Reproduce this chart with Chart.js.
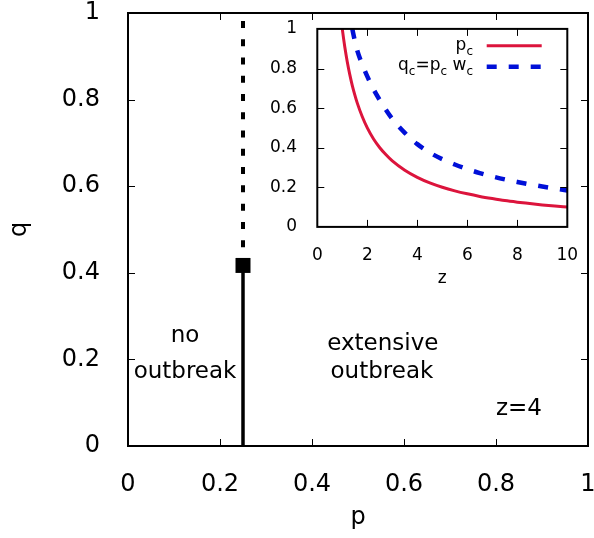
<!DOCTYPE html>
<html><head><meta charset="utf-8">
<script src="https://cdn.jsdelivr.net/npm/chart.js@4.4.1/dist/chart.umd.min.js"></script>
<style>
html,body{margin:0;padding:0;background:#fff;}
#wrap{position:relative;width:594px;height:538px;overflow:hidden;}
#main{position:absolute;left:0;top:0;}
#inset{position:absolute;left:250px;top:0;}
</style></head><body>
<div id="wrap"><canvas id="main" width="594" height="538"></canvas><canvas id="inset" width="344" height="300"></canvas></div>
<script>
const FONT = "'DejaVu Sans', sans-serif";

// ---- main panel data ----
const mainTickValues = [0, 0.2, 0.4, 0.6, 0.8, 1];
const mainTickLabels = ['0', '0.2', '0.4', '0.6', '0.8', '1'];
const mainXTitle = 'p';
const mainYTitle = 'q';
const boundaryP = 0.25;
const solidQ = [0, 0.417];
const dashedQ = [0.417, 1];
const criticalQ = 0.417;
const regionTexts = ['no', 'outbreak', 'extensive', 'outbreak', 'z=4'];
const regionP = [0.124, 0.124, 0.554, 0.552, 0.85];
const regionQ = [0.240, 0.157, 0.222, 0.157, 0.0716];

// ---- inset data ----
const insetXTickValues = [0, 2, 4, 6, 8, 10];
const insetXTickLabels = ['0', '2', '4', '6', '8', '10'];
const insetYTickValues = [0, 0.2, 0.4, 0.6, 0.8, 1];
const insetYTickLabels = ['0', '0.2', '0.4', '0.6', '0.8', '1'];
const insetXTitle = 'z';
const zPc = [1, 1.05, 1.1, 1.2, 1.3, 1.4, 1.5, 1.6, 1.8, 2, 2.25, 2.5, 2.75, 3, 3.5, 4, 4.5, 5, 5.5, 6, 6.5, 7, 7.5, 8, 8.5, 9, 9.5, 10];
const pcValues = [1, 0.952, 0.909, 0.833, 0.769, 0.714, 0.667, 0.625, 0.556, 0.5, 0.444, 0.4, 0.364, 0.333, 0.286, 0.25, 0.222, 0.2, 0.182, 0.167, 0.154, 0.143, 0.133, 0.125, 0.118, 0.111, 0.105, 0.1];
const zQc = [1.4, 1.5, 1.6, 1.8, 2, 2.25, 2.5, 2.75, 3, 3.5, 4, 4.5, 5, 5.5, 6, 6.5, 7, 7.5, 8, 8.5, 9, 9.5, 10];
const qcValues = [1.0, 0.94, 0.89, 0.82, 0.76, 0.695, 0.64, 0.59, 0.545, 0.475, 0.418, 0.375, 0.342, 0.315, 0.292, 0.272, 0.255, 0.24, 0.227, 0.215, 0.204, 0.194, 0.184];

const RED = '#dc143c';
const BLUE = '#0010d8';

function fixedTicks(values) {
  return function (scale) { scale.ticks = values.map(v => ({ value: v })); };
}

function framePlugin(id, len, tickW, frameW) {
  return {
    id: id,
    afterDraw(chart) {
      const { ctx, chartArea: a, scales } = chart;
      const x = scales.x, y = scales.y;
      ctx.save();
      ctx.strokeStyle = '#000';
      ctx.lineWidth = tickW;
      ctx.beginPath();
      x.ticks.forEach(t => {
        if (t.value <= x.min || t.value >= x.max) return;
        const px = Math.round(x.getPixelForValue(t.value)) + 0.5;
        ctx.moveTo(px, a.bottom); ctx.lineTo(px, a.bottom - len);
        ctx.moveTo(px, a.top); ctx.lineTo(px, a.top + len);
      });
      y.ticks.forEach(t => {
        if (t.value <= y.min || t.value >= y.max) return;
        const py = Math.round(y.getPixelForValue(t.value)) + 0.5;
        ctx.moveTo(a.left, py); ctx.lineTo(a.left + len, py);
        ctx.moveTo(a.right, py); ctx.lineTo(a.right - len, py);
      });
      ctx.stroke();
      ctx.lineWidth = frameW;
      ctx.strokeRect(a.left, a.top, a.right - a.left, a.bottom - a.top);
      ctx.restore();
    }
  };
}

function titlesPlugin(id, size, xTitle, xBaseline, yTitle, yBaselineX) {
  return {
    id: id,
    afterDraw(chart) {
      const { ctx, chartArea: a } = chart;
      ctx.save();
      ctx.fillStyle = '#000';
      ctx.font = size + 'px ' + FONT;
      ctx.textAlign = 'center';
      ctx.textBaseline = 'alphabetic';
      if (xTitle) ctx.fillText(xTitle, (a.left + a.right) / 2, xBaseline);
      if (yTitle) {
        ctx.translate(yBaselineX, (a.top + a.bottom) / 2);
        ctx.rotate(-Math.PI / 2);
        ctx.fillText(yTitle, 0, 0);
      }
      ctx.restore();
    }
  };
}

const regionTextPlugin = {
  id: 'regionText',
  afterDraw(chart) {
    const { ctx, scales: { x, y } } = chart;
    ctx.save();
    ctx.fillStyle = '#000';
    ctx.font = '23px ' + FONT;
    ctx.textAlign = 'center';
    ctx.textBaseline = 'alphabetic';
    regionTexts.forEach((t, i) => {
      ctx.fillText(t, x.getPixelForValue(regionP[i]), y.getPixelForValue(regionQ[i]));
    });
    ctx.restore();
  }
};

function axisCommon(size, pad, values, labels) {
  return {
    type: 'linear',
    min: values[0], max: values[values.length - 1],
    grid: { display: false },
    border: { display: false },
    afterBuildTicks: fixedTicks(values),
    ticks: {
      color: '#000', padding: pad, maxRotation: 0, autoSkip: false,
      font: { family: FONT, size: size },
      callback: (v, i) => labels[i]
    }
  };
}

// ---------- main chart ----------
const mainX = axisCommon(24, 16, mainTickValues, mainTickLabels);
mainX.afterFit = s => { s.height = 92; s.paddingLeft = 0; s.paddingRight = 0; };
const mainY = axisCommon(24, 20, mainTickValues, mainTickLabels);
mainY.afterFit = s => { s.width = 128; s.paddingTop = 0; s.paddingBottom = 0; };

new Chart(document.getElementById('main'), {
  type: 'line',
  data: {
    datasets: [
      { data: solidQ.map(q => ({ x: boundaryP, y: q })), borderColor: '#000', borderWidth: 3.5, pointRadius: 0, fill: false },
      { data: dashedQ.map(q => ({ x: boundaryP, y: q })), borderColor: '#000', borderWidth: 4, borderDash: [7, 11.27], pointRadius: 0, fill: false },
      { data: [{ x: boundaryP, y: criticalQ }], showLine: false, pointStyle: 'rect', pointRadius: 10.6, pointHoverRadius: 10.6, backgroundColor: '#000', borderColor: '#000', borderWidth: 0 }
    ]
  },
  options: {
    responsive: false, animation: false, devicePixelRatio: 1,
    layout: { autoPadding: false, padding: { left: 0, top: 13, right: 6, bottom: 0 } },
    plugins: { legend: { display: false }, tooltip: { enabled: false } },
    scales: { x: mainX, y: mainY }
  },
  plugins: [framePlugin('mainFrame', 7, 1, 2), regionTextPlugin, titlesPlugin('mainTitles', 24, mainXTitle, 524, mainYTitle, 25.5)]
});

// ---------- inset chart ----------
const insetLegendPlugin = {
  id: 'insetLegend',
  afterDraw(chart) {
    const { ctx, chartArea: a } = chart;
    ctx.save();
    const xr = a.right - 94.3;
    const rows = [
      { y: a.top + 20.6, segs: [['p', false], ['c', true]] },
      { y: a.top + 41.0, segs: [['q', false], ['c', true], ['=p', false], ['c', true], [' w', false], ['c', true]] }
    ];
    ctx.fillStyle = '#000';
    ctx.textBaseline = 'alphabetic';
    ctx.textAlign = 'left';
    const fMain = '17px ' + FONT, fSub = '12px ' + FONT;
    rows.forEach(r => {
      let total = 0;
      r.segs.forEach(s => { ctx.font = s[1] ? fSub : fMain; total += ctx.measureText(s[0]).width; });
      let cx = xr - total;
      r.segs.forEach(s => {
        ctx.font = s[1] ? fSub : fMain;
        ctx.fillText(s[0], cx, r.y + (s[1] ? 5 : 0));
        cx += ctx.measureText(s[0]).width;
      });
    });
    ctx.lineCap = 'butt';
    ctx.strokeStyle = RED; ctx.lineWidth = 3;
    ctx.beginPath(); ctx.moveTo(a.right - 80.6, a.top + 16.8); ctx.lineTo(a.right - 25.6, a.top + 16.8); ctx.stroke();
    ctx.strokeStyle = BLUE; ctx.lineWidth = 4.5; ctx.setLineDash([10, 12]);
    ctx.beginPath(); ctx.moveTo(a.right - 80.6, a.top + 37.8); ctx.lineTo(a.right - 25.6, a.top + 37.8); ctx.stroke();
    ctx.restore();
  }
};

const insetX = axisCommon(17, 10.8, insetXTickValues, insetXTickLabels);
insetX.afterFit = s => { s.height = 73.1; s.paddingLeft = 0; s.paddingRight = 0; };
const insetY = axisCommon(17, 12.3, insetYTickValues, insetYTickLabels);
insetY.afterFit = s => { s.width = 67.3; s.paddingTop = 0; s.paddingBottom = 0; };

new Chart(document.getElementById('inset'), {
  type: 'line',
  data: {
    datasets: [
      { data: zPc.map((z, i) => ({ x: z, y: pcValues[i] })), borderColor: RED, borderWidth: 3, pointRadius: 0, cubicInterpolationMode: 'monotone', fill: false },
      { data: zQc.map((z, i) => ({ x: z, y: qcValues[i] })), borderColor: BLUE, borderWidth: 4.5, borderDash: [10, 12], pointRadius: 0, cubicInterpolationMode: 'monotone', fill: false }
    ]
  },
  options: {
    responsive: false, animation: false, devicePixelRatio: 1,
    layout: { autoPadding: false, padding: { left: 0, top: 28.9, right: 26.7, bottom: 0 } },
    plugins: { legend: { display: false }, tooltip: { enabled: false } },
    scales: { x: insetX, y: insetY }
  },
  plugins: [framePlugin('insetFrame', 7, 1, 2), insetLegendPlugin, titlesPlugin('insetTitles', 17, insetXTitle, 283, null, 0)]
});
</script>
</body></html>
